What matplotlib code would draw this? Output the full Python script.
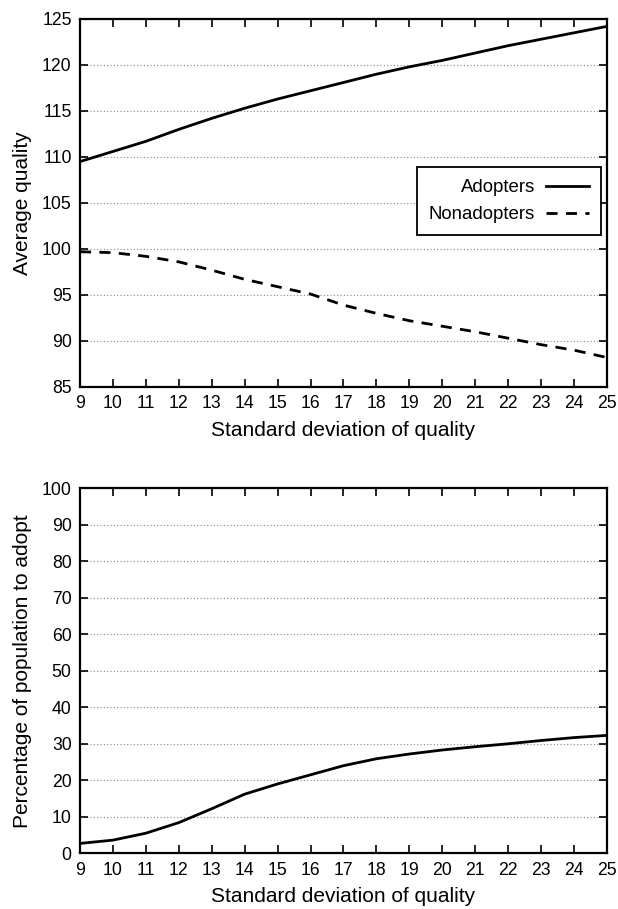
import matplotlib
matplotlib.use("Agg")
import matplotlib.pyplot as plt

plt.rcParams['font.family'] = ['Liberation Sans', 'DejaVu Sans']

# standard deviation of quality
sd = [9, 10, 11, 12, 13, 14, 15, 16, 17, 18, 19, 20, 21, 22, 23, 24, 25]

adopters = [109.5, 110.6, 111.7, 113.0, 114.2, 115.3, 116.3, 117.2, 118.1, 119.0,
            119.8, 120.5, 121.3, 122.1, 122.8, 123.5, 124.2]
nonadopters = [99.7, 99.6, 99.2, 98.6, 97.7, 96.7, 95.9, 95.1, 93.9, 93.0,
               92.2, 91.6, 91.0, 90.3, 89.6, 89.0, 88.2]
pct_adopt = [2.7, 3.6, 5.5, 8.4, 12.2, 16.2, 19.0, 21.5, 24.0, 25.9,
             27.2, 28.3, 29.2, 30.0, 30.9, 31.7, 32.3]

xticks = list(range(9, 26))
fs = 12.7
lab_fs = 15


def style(ax, ylim, ystep):
    ax.set_xlim(9, 25)
    ax.set_ylim(*ylim)
    ax.set_xticks(xticks)
    ax.set_yticks(range(ylim[0], ylim[1] + 1, ystep))
    ax.tick_params(direction='in', length=6, width=1.2, top=True, right=True,
                   labelsize=fs, pad=6, colors='black')
    for s in ax.spines.values():
        s.set_linewidth(1.6)
    ax.yaxis.grid(True, linestyle=(0, (1, 2)), color='#888888', linewidth=0.8)
    ax.set_axisbelow(True)


fig = plt.figure(figsize=(6.18, 9.09), dpi=100)

ax1 = fig.add_axes([0.1294, 0.5743, 0.8528, 0.4048])
ax1.plot(sd, adopters, color='black', lw=2, label='Adopters')
ax1.plot(sd, nonadopters, color='black', lw=2, linestyle=(0, (4, 3)), label='Nonadopters')
style(ax1, (85, 125), 5)
ax1.set_xlabel('Standard deviation of quality', fontsize=lab_fs, labelpad=6)
ax1.set_ylabel('Average quality', fontsize=lab_fs, labelpad=7)
leg = ax1.legend(loc='upper right', bbox_to_anchor=(0.989, 0.598), markerfirst=False,
                 fontsize=13.4, handlelength=2.3, frameon=True, fancybox=False,
                 borderpad=0.65, labelspacing=0.55, handletextpad=0.6,
                 borderaxespad=0)
leg.get_frame().set_edgecolor('black')
leg.get_frame().set_linewidth(1.3)
leg.get_frame().set_alpha(1)

ax2 = fig.add_axes([0.1294, 0.0613, 0.8528, 0.4015])
ax2.plot(sd, pct_adopt, color='black', lw=2)
style(ax2, (0, 100), 10)
ax2.set_xlabel('Standard deviation of quality', fontsize=lab_fs, labelpad=6)
ax2.set_ylabel('Percentage of population to adopt', fontsize=lab_fs, labelpad=7)

fig.savefig('out.png', dpi=100)
